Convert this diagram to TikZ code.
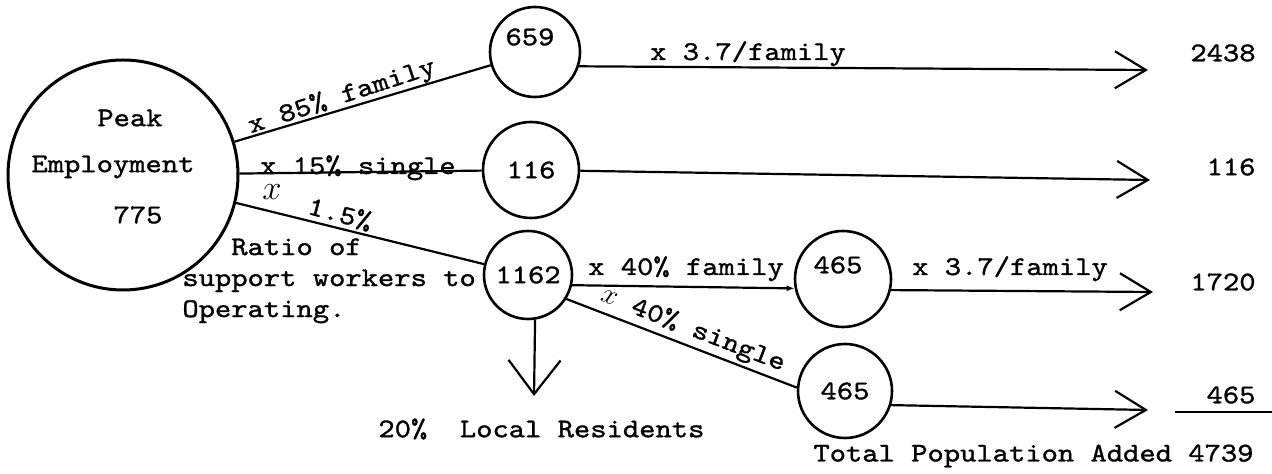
\documentclass[tikz,border=0pt]{standalone}
\usepackage{fontspec}
\setmonofont{lmmono10-regular.otf}[FakeStretch=1.15,FakeBold=1.2]
\usepackage{tikz}
\usetikzlibrary{arrows.meta}

\begin{document}
\begin{tikzpicture}[x=0.5pt,y=-0.5pt,
    font=\ttfamily\fontsize{13.5}{15.5}\selectfont,
    bubble/.style={draw,circle,line width=1.3pt,inner sep=0pt,minimum size=#1},
    link/.style={line width=1.1pt},
    flow/.style={line width=1.1pt,-{Straight Barb[length=15.5pt,width=18.5pt,line width=1.1pt]}},
    lbl/.style={inner sep=0pt}]
    \useasboundingbox (0,0) rectangle (1272,474);
    \node[bubble=115pt,line width=1.5pt] (peak) at (123,175) {};
    \node[lbl] (peaka) at (130,118) {Peak};
    \node[lbl] (peakb) at (113,167) {Employment};
    \node[lbl] (peakc) at (138,215) {775};
    \node[bubble=45pt] (c659) at (535,52) {};
    \node[lbl] (n659) at (530,37) {659};
    \node[bubble=48pt] (c116) at (531,170) {116};
    \node[bubble=44pt] (c1162) at (528,275) {1162};
    \node[bubble=48pt] (c465a) at (843,279) {};
    \node[lbl] (n465a) at (838,265) {465};
    \node[bubble=47pt] (c465b) at (845,391) {465};
    \coordinate (t2438) at (1148,70);
    \coordinate (t116) at (1150,180);
    \coordinate (t1720) at (1153,292);
    \coordinate (t465) at (1148,410);
    \coordinate (tloc) at (534,396);
    \draw[link] (peak) -- (c659);
    \draw[link] (peak) -- (c116);
    \draw[link] (peak) -- (c1162);
    \draw[flow] (c659.-18) -- (t2438);
    \draw[flow] (c116) -- (t116);
    \draw[link,-{Latex[length=4pt,width=3pt]}] (c1162.-13) -- (c465a.191);
    \draw[link] (c1162.-32) -- (c465b.176);
    \draw[flow] (c465a.-13) -- (t1720);
    \draw[flow] (c465b.-17) -- (t465);
    \draw[link,-{Straight Barb[length=17pt,width=26pt,line width=1.1pt]}] (c1162.-81) -- (tloc);
    \node[lbl,rotate=18] (l85) at (342,97) {x 85\% family};
    \node[lbl,anchor=base] (l15) at (358,174) {x 15\% single};
    \node[lbl,scale=1.2] (lx) at (272,192) {$x$};
    \node[lbl,rotate=-15] (l15b) at (340,214) {1.5\%};
    \node[lbl,align=left,anchor=north west] (ratio) at (182,238) {\phantom{sup}Ratio of\\support workers to\\Operating.};
    \node[lbl,anchor=base] (l37a) at (748,60) {x 3.7/family};
    \node[lbl,anchor=base] (l40f) at (686,275) {x 40\% family};
    \node[lbl,anchor=base] (l37b) at (1010,275) {x 3.7/family};
    \node[lbl,rotate=-21] (l40s) at (693,330) {$x$ 40\% single};
    \node[lbl,anchor=west] (local) at (378,429) {20\%\ \ Local Residents};
    \node[lbl] (v2438) at (1223,53) {2438};
    \node[lbl] (v116) at (1231,167) {116};
    \node[lbl] (v1720) at (1223,282) {1720};
    \node[lbl] (v465) at (1231,395) {465};
    \draw[link] (1175,412) -- (1272,412);
    \node[lbl,anchor=west] (total) at (813,456) {Total Population Added 4739};
\end{tikzpicture}
\end{document}
